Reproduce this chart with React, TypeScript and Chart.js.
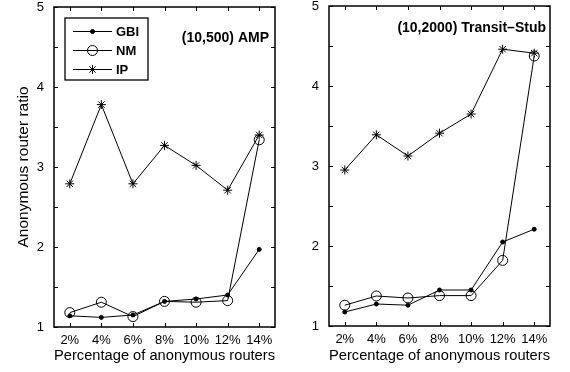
import React, { useEffect, useRef } from 'react';
import { Chart, registerables } from 'chart.js';
import { drawPoint } from 'chart.js/helpers';

Chart.register(...registerables);

const categories = ['2%', '4%', '6%', '8%', '10%', '12%', '14%'];
const yTickValues = [1, 1.5, 2, 2.5, 3, 3.5, 4, 4.5, 5];
const seriesNames = ['GBI', 'NM', 'IP'];

const ampGBI = [1.14, 1.12, 1.15, 1.32, 1.35, 1.4, 1.97];
const ampNM = [1.18, 1.31, 1.13, 1.32, 1.31, 1.33, 3.34];
const ampIP = [2.79, 3.78, 2.79, 3.27, 3.02, 2.71, 3.4];

const tsGBI = [1.175, 1.275, 1.26, 1.45, 1.45, 2.05, 2.21];
const tsNM = [1.26, 1.375, 1.35, 1.38, 1.38, 1.82, 4.375];
const tsIP = [2.95, 3.39, 3.125, 3.41, 3.65, 4.46, 4.41];

const panelNotes = ['(10,500) AMP', '(10,2000) Transit\u2013Stub'];
const xTitle = 'Percentage of anonymous routers';
const yTitle = 'Anonymous router ratio';

const FONT = '"Liberation Sans", Arial, Helvetica, sans-serif';

const styles = [
  { pointStyle: 'circle', pointRadius: 2, pointBackgroundColor: '#000', pointBorderWidth: 1 },
  { pointStyle: 'circle', pointRadius: 5, pointBackgroundColor: 'rgba(0,0,0,0)', pointBorderWidth: 1 },
  { pointStyle: 'star', pointRadius: 4.5, pointBackgroundColor: '#000', pointBorderWidth: 1 },
];

const framePlugin = {
  id: 'frame',
  afterDatasetsDraw(chart: any, _args: any, opts: any) {
    const { ctx, chartArea: a, scales } = chart;
    const xs = scales.x;
    const ys = scales.y;
    ctx.save();
    ctx.strokeStyle = '#000';
    ctx.lineWidth = 1;
    ctx.beginPath();
    xs.ticks.forEach((_t: any, i: number) => {
      const px = Math.round(xs.getPixelForTick(i)) + 0.5;
      ctx.moveTo(px, a.bottom);
      ctx.lineTo(px, a.bottom - 4);
      ctx.moveTo(px, a.top);
      ctx.lineTo(px, a.top + 4);
    });
    ys.ticks.forEach((t: any) => {
      const py = Math.round(ys.getPixelForValue(t.value)) + 0.5;
      ctx.moveTo(a.left, py);
      ctx.lineTo(a.left + 4, py);
      ctx.moveTo(a.right, py);
      ctx.lineTo(a.right - 4, py);
    });
    ctx.stroke();
    ctx.lineWidth = 1.5;
    ctx.strokeRect(a.left, a.top, a.right - a.left, a.bottom - a.top);

    // panel note
    ctx.fillStyle = '#000';
    ctx.font = `bold ${opts.noteSize}px ${FONT}`;
    ctx.textAlign = 'right';
    ctx.textBaseline = 'middle';
    ctx.fillText(opts.note, a.right - opts.noteDx, a.top + opts.noteDy);

    if (opts.legend) {
      const bx = a.left + 11;
      const by = a.top + 11;
      const bw = 83;
      const bh = 62;
      ctx.lineWidth = 1.3;
      ctx.fillStyle = '#fff';
      ctx.fillRect(bx, by, bw, bh);
      ctx.strokeRect(bx, by, bw, bh);
      chart.data.datasets.forEach((ds: any, i: number) => {
        const ly = by + 13.5 + i * 19;
        ctx.strokeStyle = '#000';
        ctx.lineWidth = 1;
        ctx.beginPath();
        ctx.moveTo(bx + 8, ly);
        ctx.lineTo(bx + 47, ly);
        ctx.stroke();
        ctx.fillStyle = ds.pointBackgroundColor;
        drawPoint(ctx, { pointStyle: ds.pointStyle, radius: ds.pointRadius, borderWidth: 1, rotation: 0 }, bx + 27.5, ly);
        ctx.fillStyle = '#000';
        ctx.font = `bold 13px ${FONT}`;
        ctx.textAlign = 'left';
        ctx.textBaseline = 'middle';
        ctx.fillText(ds.label, bx + 51, ly + 0.5);
      });
    }
    ctx.restore();
  },
};

function makeConfig(series: number[][], opts: any) {
  return {
    type: 'line',
    data: {
      labels: categories,
      datasets: series.map((vals, i) => ({
        label: seriesNames[i],
        data: vals,
        borderColor: '#000',
        borderWidth: 1,
        pointBorderColor: '#000',
        tension: 0,
        fill: false,
        clip: false,
        ...styles[i],
      })),
    },
    options: {
      responsive: false,
      animation: false,
      events: [],
      layout: { padding: { left: 0, right: opts.padRight, top: opts.padTop, bottom: 0 } },
      plugins: {
        legend: { display: false },
        tooltip: { enabled: false },
        frame: { note: opts.note, noteDx: opts.noteDx, noteDy: opts.noteDy, noteSize: 14, legend: opts.legend },
      },
      scales: {
        x: {
          type: 'category',
          offset: true,
          grid: { display: false, drawTicks: false },
          border: { display: false },
          ticks: { autoSkip: false, maxRotation: 0, minRotation: 0, padding: 6, color: '#000', font: { family: FONT, size: 13 } },
          title: { display: true, text: xTitle, color: '#000', font: { family: FONT, size: 15.5 }, padding: { top: 0, bottom: 7 } },
          afterFit: (s: any) => {
            s.height = opts.xHeight;
            s.paddingLeft = 0;
            s.paddingRight = 0;
          },
        },
        y: {
          type: 'linear',
          min: 1,
          max: 5,
          afterBuildTicks: (s: any) => {
            s.ticks = yTickValues.map((v) => ({ value: v }));
          },
          grid: { display: false, drawTicks: false },
          border: { display: false },
          ticks: {
            padding: 10,
            color: '#000',
            font: { family: FONT, size: 13 },
            callback: (v: any) => (Number.isInteger(v) ? String(v) : ''),
          },
          title: { display: opts.yTitle, text: yTitle, color: '#000', font: { family: FONT, size: 15.5 }, padding: { top: 14, bottom: 0 } },
          afterFit: (s: any) => {
            s.width = opts.yWidth;
            s.paddingTop = 0;
            s.paddingBottom = 0;
          },
        },
      },
    },
    plugins: [framePlugin],
  } as any;
}

export default function App() {
  const leftRef = useRef<HTMLCanvasElement>(null);
  const rightRef = useRef<HTMLCanvasElement>(null);

  useEffect(() => {
    const c1 = new Chart(
      leftRef.current as HTMLCanvasElement,
      makeConfig([ampGBI, ampNM, ampIP], {
        padRight: 10, padTop: 7, xHeight: 45, yWidth: 54, yTitle: true, legend: true,
        note: panelNotes[0], noteDx: 6, noteDy: 31,
      })
    );
    const c2 = new Chart(
      rightRef.current as HTMLCanvasElement,
      makeConfig([tsGBI, tsNM, tsIP], {
        padRight: 20, padTop: 6, xHeight: 46, yWidth: 44, yTitle: false, legend: false,
        note: panelNotes[1], noteDx: 4, noteDy: 22,
      })
    );
    return () => {
      c1.destroy();
      c2.destroy();
    };
  }, []);

  return (
    <div style={{ position: 'absolute', left: 0, top: 0, width: 570, height: 372, background: '#fff' }}>
      <canvas ref={leftRef} width={285} height={372} style={{ position: 'absolute', left: 0, top: 0 }} />
      <canvas ref={rightRef} width={285} height={372} style={{ position: 'absolute', left: 285, top: 0 }} />
    </div>
  );
}
